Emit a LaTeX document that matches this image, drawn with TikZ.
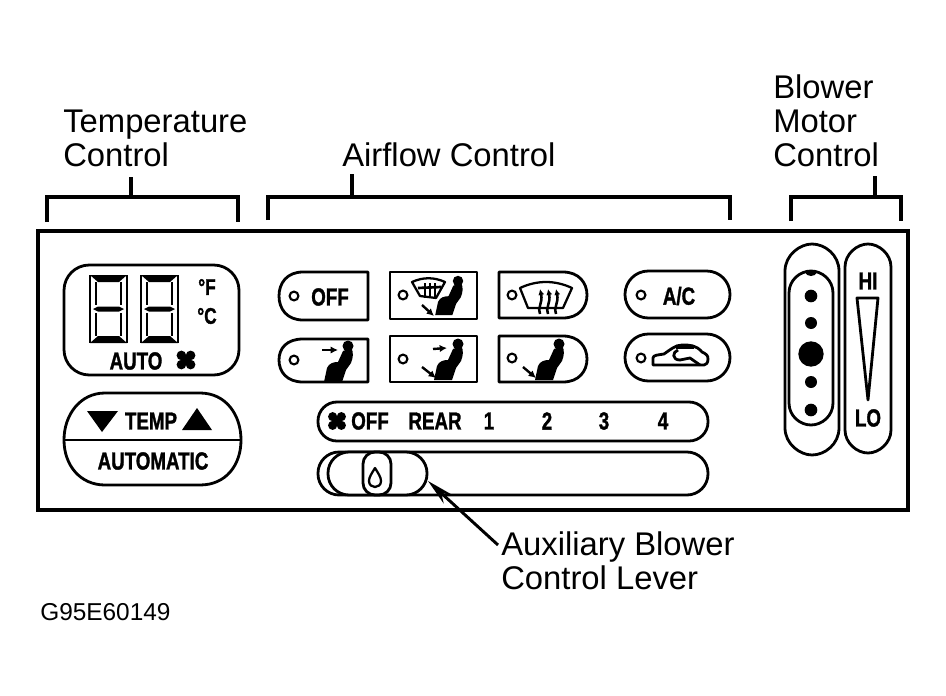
\documentclass[tikz,border=0pt]{standalone}
\usepackage{fontspec}
\usepackage{graphicx}
\setmainfont{Liberation Sans}
\newfontfamily\heavy[FakeBold=1.6]{Liberation Sans Bold}
\usetikzlibrary{arrows.meta}
\newcommand{\bt}[1]{\scalebox{.76}[1]{\heavy #1}}
\tikzset{
 x=.75pt,y=-.75pt,
 outl/.style={line width=2.1pt,line join=round},
 thin outl/.style={line width=1.7pt,line join=round},
 lbl/.style={inner sep=0pt,anchor=south west,align=left,font=\fontsize{24.6}{25.5}\selectfont},
 pnl/.style={inner sep=0pt,font=\fontsize{18.5}{20}\selectfont},
 led/.style={circle,draw,line width=1.6pt,minimum size=6.6pt,inner sep=0pt},
 dot/.style={circle,fill,inner sep=0pt},
 brk/.style={line width=2.4pt},
 sarr/.style={line width=1.8pt,-{Latex[length=5.5pt,width=5.5pt]}},
 seat/.pic={
  \fill (0,0) circle (5.5);
  \fill (-5,5) -- (3,2) .. controls (6,6) and (5,12) .. (3,17) -- (-2,24) -- (-6,36) -- (-24,36) -- (-21,22) .. controls (-19,17) and (-14,16) .. (-10,16) -- cycle;
 },
 fanblob/.pic={
  \fill (-4.6,-4.6) circle (4.8) (4.6,-4.6) circle (4.8) (-4.6,4.6) circle (4.8) (4.6,4.6) circle (4.8) (0,0) circle (5);
 },
 digit/.pic={
  \fill (0,0) -- (37,0) -- (29,7) -- (8,7) -- cycle;
  \fill (0,68) -- (37,68) -- (29,61) -- (8,61) -- cycle;
  \fill (3,34) -- (8,31.5) -- (29,31.5) -- (34,34) -- (29,36.5) -- (8,36.5) -- cycle;
  \draw[line width=1.4pt,line join=round] (0,0) -- (0,68) (37,0) -- (37,68) (6,7) -- (6,30) (31,7) -- (31,30) (6,38) -- (6,61) (31,38) -- (31,61);
 },
}
\begin{document}
\begin{tikzpicture}
\useasboundingbox (0,0) rectangle (946,696);
% panel
\node[draw,line width=3pt,minimum width=652pt,minimum height=209pt,inner sep=0pt] (panel) at (473,370.5) {};

% labels
\node[lbl] (ltemp) at (63,167) {Temperature\\Control};
\node[lbl] (lair) at (342,167) {Airflow Control};
\node[lbl] (lblow) at (773,167) {Blower\\Motor\\Control};
\node[lbl] (laux) at (501,590) {Auxiliary Blower\\Control Lever};
\node[inner sep=0pt,anchor=base west,font=\fontsize{18.3}{20}\selectfont] (lcode) at (40,620) {G95E60149};

% brackets
\coordinate (bt) at (131,197); \coordinate (ta) at (131,177);
\coordinate (ba) at (352,197); \coordinate (aa) at (352,174);
\coordinate (bb) at (875,197); \coordinate (ab) at (875,176);
\draw[brk] (47,222) -- (47,197) -- (238,197) -- (238,222);
\draw[brk] (ta) -- (bt);
\draw[brk] (268,220) -- (268,197) -- (730,197) -- (730,220);
\draw[brk] (aa) -- (ba);
\draw[brk] (791,221) -- (791,197) -- (901,197) -- (901,221);
\draw[brk] (ab) -- (bb);

% temperature display
\draw[outl,rounded corners=19pt] (64,265) rectangle (239,375);
\pic at (90,275) {digit};
\pic at (141,275) {digit};
\node[pnl,font=\fontsize{17}{18}\selectfont] (degf) at (207,287) {\bt{°F}};
\node[pnl,font=\fontsize{17}{18}\selectfont] (degc) at (207,316) {\bt{°C}};
\node[pnl] (auto) at (136,361) {\bt{AUTO}};
\pic at (186,360) {fanblob};

% temp button
\draw[outl] (105,393) -- (200,393) .. controls (226,393) and (241,415) .. (241,440) .. controls (241,465) and (226,485) .. (200,485) -- (105,485) .. controls (80,485) and (64,465) .. (64,440) .. controls (64,415) and (80,393) .. (105,393) -- cycle;
\draw[outl] (64,440) -- (241,440);
\fill (87,411) -- (118,411) -- (102,432) -- cycle;
\fill (182,430) -- (212,430) -- (197,408) -- cycle;
\node[pnl] (ttemp) at (151,421) {\bt{TEMP}};
\node[pnl] (tauto) at (153,461) {\bt{AUTOMATIC}};

% airflow row 1
\draw[outl] (368,272) -- (368,320) -- (303,320) .. controls (287,320) and (279,309) .. (279,296) .. controls (279,283) and (287,272) .. (303,272) -- cycle;
\node[led] (l1) at (294,296) {};
\node[pnl] (toff) at (330,297) {\bt{OFF}};

\draw[outl] (390,272) rectangle (477,319);
\node[led] (l2) at (403,295) {};
\draw[thin outl] (412,282) .. controls (423,277) and (434,277) .. (445,282) -- (436,298) -- (420,296) -- cycle;
\foreach \q in {425,430,435} \draw[line width=2pt] (\q,283) -- (\q,298);
\draw[line width=2pt] (418,288) -- (441,287);
\pic[scale=.95] at (458,281) {seat};
\draw[sarr] (422,305) -- (434,316);

\draw[outl] (499,272) -- (563,272) .. controls (579,272) and (587,283) .. (587,295) .. controls (587,307) and (579,318) .. (563,318) -- (499,318) -- cycle;
\node[led] (l3) at (512,295) {};
\draw[thin outl] (520,288) .. controls (537,280) and (555,280) .. (572,288) -- (563,308) -- (528,308) -- cycle;
\foreach \q in {540,548,556}
 \draw[line width=1.9pt,-{Latex[length=4.5pt,width=4.5pt]}] (\q,314) .. controls (\q-3,308) and (\q+3,303) .. (\q,289);

% airflow row 2
\draw[outl] (368,339) -- (368,382) -- (303,382) .. controls (287,382) and (279,372) .. (279,360) .. controls (279,348) and (287,339) .. (303,339) -- cycle;
\node[led] (l4) at (294,360) {};
\pic at (348,346) {seat};
\draw[sarr] (322,350) -- (338,350);

\draw[outl] (390,336) rectangle (477,382);
\node[led] (l5) at (403,359) {};
\pic at (458,344) {seat};
\draw[sarr] (433,349) -- (447,348);
\draw[sarr] (422,367) -- (436,378);

\draw[outl] (499,336) -- (563,336) .. controls (579,336) and (587,347) .. (587,359) .. controls (587,371) and (579,382) .. (563,382) -- (499,382) -- cycle;
\node[led] (l6) at (512,358) {};
\pic at (559,344) {seat};
\draw[sarr] (523,367) -- (536,378);

% A/C and car
\draw[outl,rounded corners=17.5pt] (625,271) rectangle (730,318);
\node[led] (l7) at (641,295) {};
\node[pnl] (tac) at (679,296) {\bt{A/C}};
\draw[outl,rounded corners=17.5pt] (625,334) rectangle (730,381);
\node[led] (l8) at (641,358) {};
\draw[outl] (653,365) -- (653,358) .. controls (653,355) and (658,355) .. (664,354) .. controls (670,350) and (675,345) .. (682,345) .. controls (690,345) and (696,345) .. (702,352) .. controls (706,354) and (708,355) .. (708,359) .. controls (708,363) and (706,365) .. (704,365) -- cycle;
\draw[outl] (678,350) .. controls (672,352) and (672,360) .. (680,360) -- (690,358) -- (700,365);
\draw[line width=2.8pt] (676,347) -- (694,347);

% rear fan bar
\draw[outl,rounded corners=14.2pt] (318,402) rectangle (708,441);
\pic[scale=.95] at (337,421) {fanblob};
\node[pnl] (roff) at (370,421) {\bt{OFF}};
\node[pnl] (rrear) at (435,421) {\bt{REAR}};
\node[pnl] (r1) at (489,421) {\bt{1}};
\node[pnl] (r2) at (547,421) {\bt{2}};
\node[pnl] (r3) at (604,421) {\bt{3}};
\node[pnl] (r4) at (663,421) {\bt{4}};

% lever slot
\draw[outl,rounded corners=15.8pt] (318,452) rectangle (708,495);
\draw[outl,fill=white,rounded corners=15.8pt] (328,452) rectangle (427,495);
\draw[outl,rounded corners=9pt] (363,452) rectangle (391,495);
\draw[thin outl] (375,468) .. controls (372,473) and (369,477) .. (369,481) .. controls (369,485) and (372,487) .. (375,487) .. controls (378,487) and (381,485) .. (381,481) .. controls (381,477) and (378,473) .. (375,468) -- cycle;
\coordinate (levertip) at (428,481);
\coordinate (auxstart) at (498,545);
\draw[line width=2.2pt,-{Stealth[length=20pt,width=9pt]}] (auxstart) -- (levertip);

% blower
\draw[outl] (785,271) .. controls (785,255) and (800,244) .. (812,244) .. controls (825,244) and (839,255) .. (839,271) -- (839,428) .. controls (839,444) and (825,455) .. (812,455) .. controls (800,455) and (785,444) .. (785,428) -- cycle;
\draw[outl] (789,293) .. controls (789,280) and (800,271) .. (811,271) .. controls (822,271) and (833,280) .. (833,293) -- (833,403) .. controls (833,416) and (822,425) .. (811,425) .. controls (800,425) and (789,416) .. (789,403) -- cycle;
\fill (805,271) .. controls (806,275) and (808,276) .. (811,276) .. controls (814,276) and (816,275) .. (817,271) -- cycle;
\node[dot,minimum size=9.5pt] (d1) at (811,296) {};
\node[dot,minimum size=9pt] (d2) at (811,323) {};
\node[dot,minimum size=19pt] (d3) at (811,354) {};
\node[dot,minimum size=9pt] (d4) at (811,382) {};
\node[dot,minimum size=9.5pt] (d5) at (811,410) {};
\draw[outl] (845,267) .. controls (845,254) and (857,244) .. (868,244) .. controls (879,244) and (891,254) .. (891,267) -- (891,430) .. controls (891,443) and (879,453) .. (868,453) .. controls (857,453) and (845,443) .. (845,430) -- cycle;
\node[pnl] (thi) at (868,281) {\bt{HI}};
\node[pnl] (tlo) at (868,418) {\bt{LO}};
\draw[outl] (857,298) -- (878,298) -- (868,400) -- cycle;
\end{tikzpicture}
\end{document}
